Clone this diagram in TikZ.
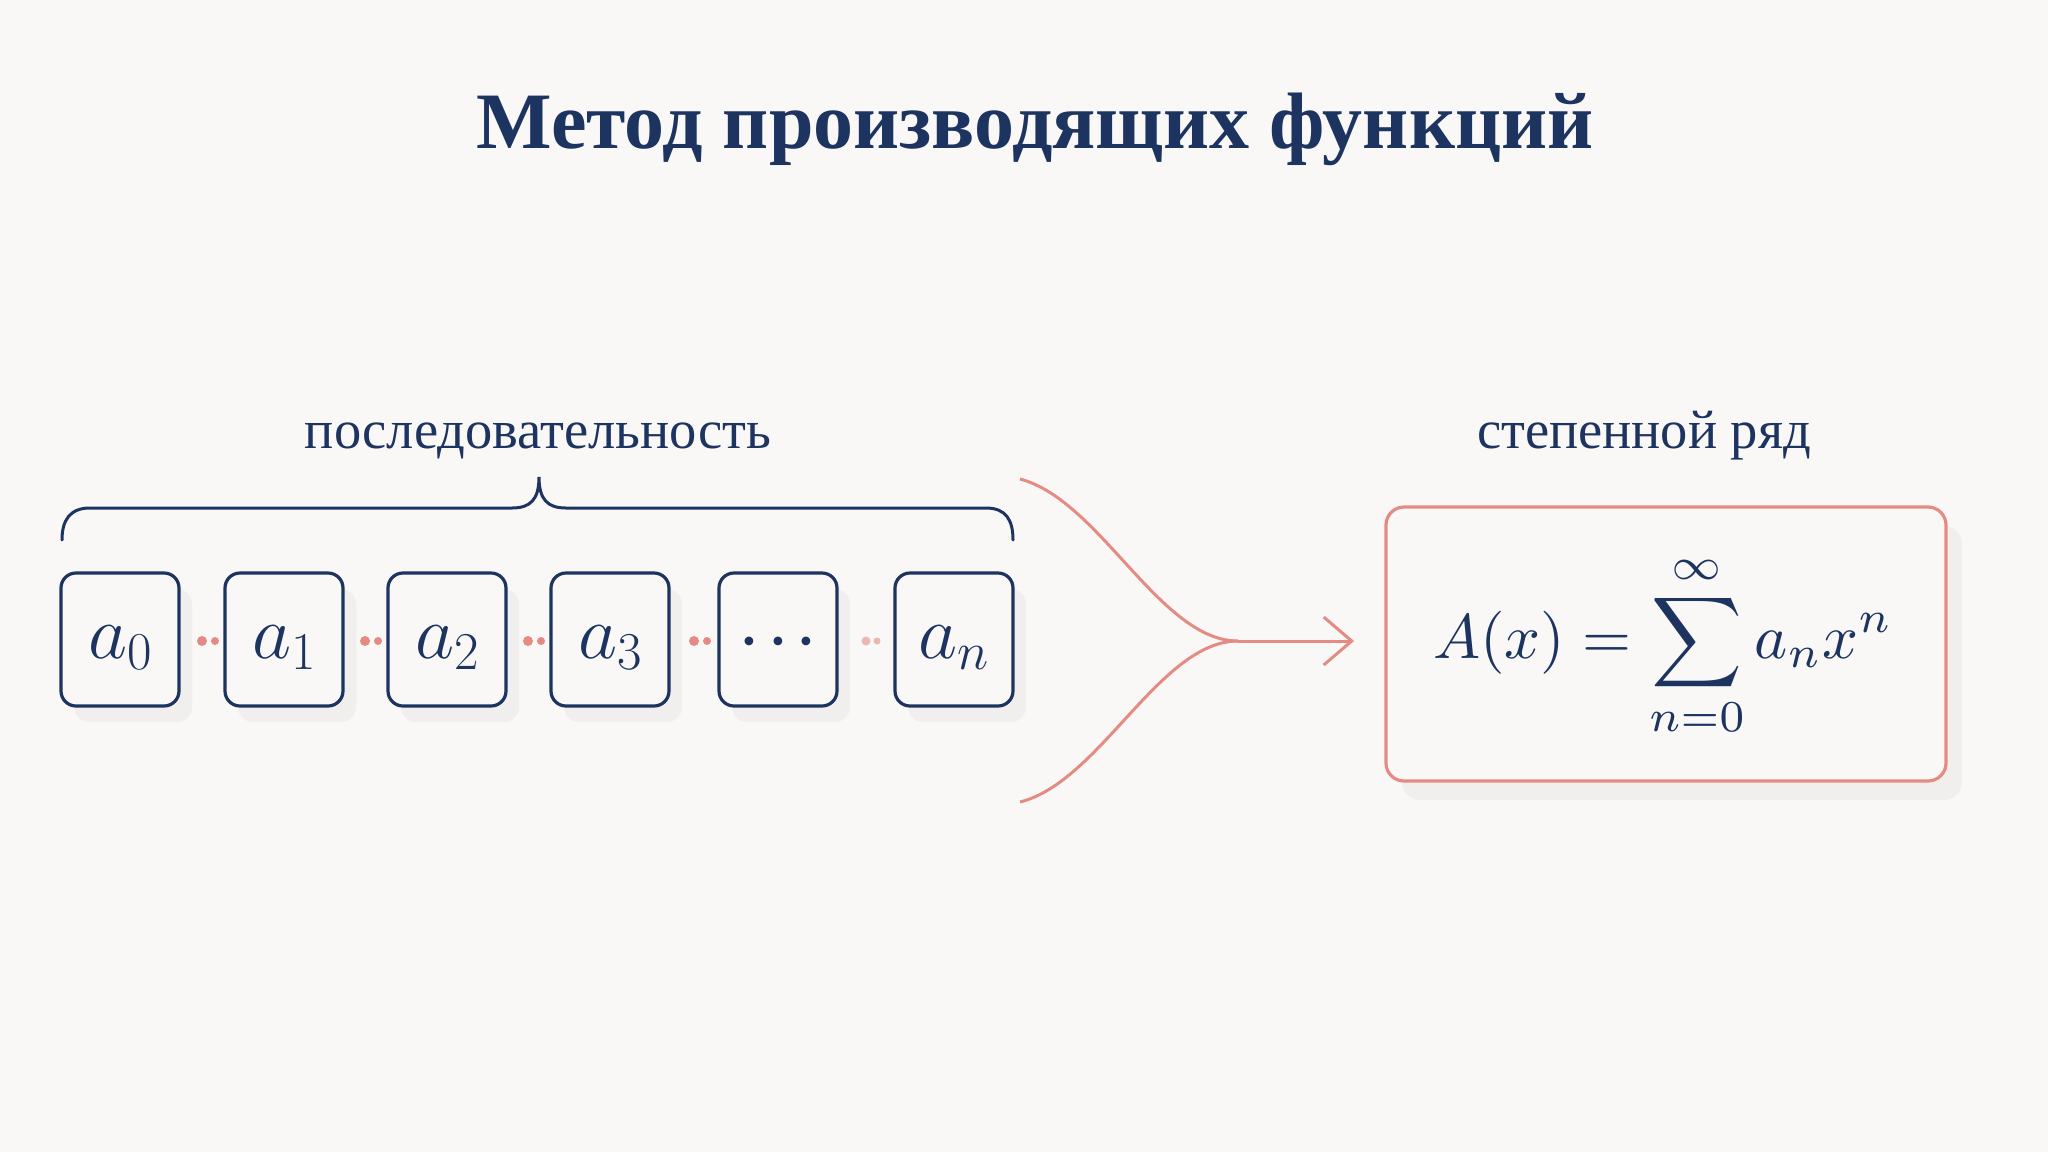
\RequirePackage{fix-cm}
\documentclass[tikz,border=0pt]{standalone}
\usepackage{fontspec}
\setmainfont{Liberation Serif}
\usetikzlibrary{arrows.meta,calc}
\definecolor{bg}{HTML}{F9F8F6}
\definecolor{navy}{HTML}{1D3461}
\definecolor{rose}{HTML}{E48B84}
\definecolor{shade}{HTML}{F0EFED}
\begin{document}
\begin{tikzpicture}[x=1pt,y=-1pt,
  seqbox/.style={draw=navy, line width=3.2pt, rounded corners=15pt, minimum width=118pt, minimum height=133pt, inner sep=0pt, fill=bg},
  fbox/.style={draw=rose, line width=3.2pt, rounded corners=18pt, minimum width=560pt, minimum height=274pt, inner sep=0pt, fill=bg},
  shadowbox/.style={fill=shade, rounded corners=15pt},
  mathlbl/.style={anchor=base, text=navy, font=\fontsize{76}{90}\selectfont},
  caption/.style={anchor=base, text=navy, font=\fontsize{54.5}{64}\selectfont},
  roseline/.style={draw=rose, line width=3pt},
  pinkdot/.style={fill=rose},
]
\fill[bg] (0,0) rectangle (2048,1152);
\useasboundingbox (0,0) rectangle (2048,1152);

% title
\node[anchor=base, text=navy, font=\fontsize{80}{96}\selectfont\bfseries] (title) at (1035,148) {Метод производящих функций};

% captions
\node[caption] (seqlbl) at (538,448) {последовательность};
\node[caption] (serlbl) at (1644,448) {степенной ряд};

% brace
\draw[navy, line width=3pt, line cap=round] (62,540) .. controls (62,520) and (70,508) .. (90,508) -- (512,508) .. controls (530,508) and (539,500) .. (539,477) .. controls (539,500) and (548,508) .. (566,508) -- (986,508) .. controls (1006,508) and (1013,520) .. (1013,540);

% shadows
\foreach \cx in {120,284,447,610,778,954}{
  \fill[shadowbox] (\cx-59+13,573+16) rectangle ++(118,133);
}
\fill[shadowbox, rounded corners=18pt] (1386+16,507+19) rectangle ++(560,274);

% sequence boxes
\node[seqbox] (b0) at (120,639.5) {};
\node[seqbox] (b1) at (284,639.5) {};
\node[seqbox] (b2) at (447,639.5) {};
\node[seqbox] (b3) at (610,639.5) {};
\node[seqbox] (bd) at (778,639.5) {};
\node[seqbox] (bn) at (954,639.5) {};

\node[mathlbl] (t0) at (120,658) {$a_0$};
\node[mathlbl] (t1) at (284,658) {$a_1$};
\node[mathlbl] (t2) at (447,658) {$a_2$};
\node[mathlbl] (t3) at (610,658) {$a_3$};
\node[anchor=base, text=navy, font=\fontsize{56}{66}\selectfont\boldmath] (td) at (778,655) {$\cdots$};
\node[mathlbl] (tn) at (954,658) {$a_n$};

% pink dots between boxes
\foreach \gx in {202,365,528,694}{
  \fill[pinkdot] (\gx,641) circle (5pt);
  \fill[pinkdot] (\gx+13,641) circle (4pt);
}
\fill[pinkdot, opacity=0.6] (866,641) circle (4.5pt);
\fill[pinkdot, opacity=0.6] (877,641) circle (3.5pt);

% formula box
\node[fbox] (fb) at (1666,644) {};
\node[text=navy, font=\fontsize{10}{12}\selectfont, scale=6.3, transform shape] (formula) at (1663,646) {$\displaystyle A(x) = \sum_{n=0}^{\infty} a_n x^n$};

% merging curves and arrow
\coordinate (ctop) at (1020,479);
\coordinate (cbot) at (1020,802);
\coordinate (merge) at (1238,641);
\coordinate (tip) at (1354,641);
\draw[roseline] (ctop) .. controls (1100,500) and (1160,641) .. (merge);
\draw[roseline] (cbot) .. controls (1100,782) and (1160,641) .. (merge);
\draw[roseline, -{Straight Barb[length=28pt,width=48pt]}] (merge) -- (tip);
\end{tikzpicture}
\end{document}
